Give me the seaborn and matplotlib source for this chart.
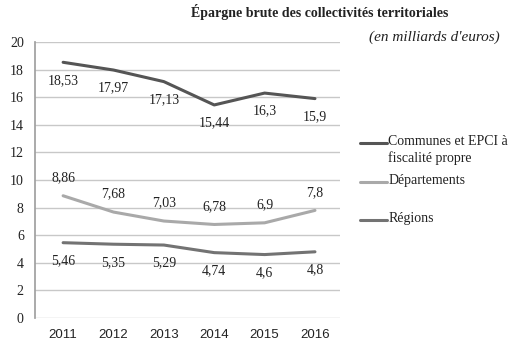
import matplotlib
matplotlib.use("Agg")
import matplotlib.pyplot as plt
import seaborn as sns
import pandas as pd

# Données (en milliards d'euros)
annees = ["2011", "2012", "2013", "2014", "2015", "2016"]
communes = [18.53, 17.97, 17.13, 15.44, 16.3, 15.9]
departements = [8.86, 7.68, 7.03, 6.78, 6.9, 7.8]
regions = [5.46, 5.35, 5.29, 4.74, 4.6, 4.8]

noms = ["Communes et EPCI à\nfiscalité propre", "Départements", "Régions"]
couleurs = ["#555555", "#a9a9a9", "#737373"]
# position des étiquettes : -1 en dessous, +1 au-dessus
placement = [-1, 1, -1]
# hauteur des entrées de légende (fraction de la figure)
legende_y = [0.595, 0.485, 0.377]

sns.set_theme(style="white")
plt.rcParams["font.family"] = ["Liberation Serif", "DejaVu Serif"]

df = pd.DataFrame({"annee": annees * 3,
                   "valeur": communes + departements + regions,
                   "serie": [noms[0]] * 6 + [noms[1]] * 6 + [noms[2]] * 6})
df["x"] = df.groupby("serie").cumcount()

fig = plt.figure(figsize=(5.29, 3.53), dpi=100)
ax = fig.add_axes([0.066, 0.099, 0.577, 0.782])

sns.lineplot(data=df, x="x", y="valeur", hue="serie", hue_order=noms,
             palette=couleurs, linewidth=2.2, ax=ax, legend=False)

for nom, sens in zip(noms, placement):
    sub = df[df["serie"] == nom]
    for xi, v in zip(sub["x"], sub["valeur"]):
        txt = f"{v:g}".replace(".", ",")
        ax.annotate(txt, (xi, v), xytext=(0, 13 * sens), textcoords="offset points",
                    ha="center", va="center", fontsize=10, color="#222222")

ax.set_xlim(-0.56, 5.5)
ax.set_ylim(0, 20)
ax.set_yticks(range(0, 21, 2))
ax.set_xticks(range(6))
ax.set_xticklabels(annees, family="Liberation Sans", fontsize=9.5)
ax.tick_params(axis="y", labelsize=10)
ax.tick_params(axis="both", colors="#222222", length=0, pad=8)
ax.grid(axis="y", color="#c8c8c8", linewidth=1)
ax.set_axisbelow(True)
for s in ["top", "right", "bottom"]:
    ax.spines[s].set_visible(False)
ax.spines["left"].set_color("#a0a0a0")
ax.set_xlabel("")
ax.set_ylabel("")

# Légende dessinée à la main (trait aligné sur la première ligne du texte)
for nom, c, y in zip(noms, couleurs, legende_y):
    fig.add_artist(plt.Line2D([0.681, 0.731], [y, y], color=c, linewidth=2.2,
                              transform=fig.transFigure))
    fig.text(0.734, y + 0.022, nom, ha="left", va="top", fontsize=10,
             color="#222222", linespacing=1.25)

fig.text(0.605, 0.965, "Épargne brute des collectivités territoriales",
         ha="center", va="center", fontsize=10, fontweight="bold", color="#222222")
fig.text(0.822, 0.895, "(en milliards d'euros)", ha="center", va="center",
         fontsize=11, style="italic", color="#222222")

fig.savefig("out.png", dpi=100)
